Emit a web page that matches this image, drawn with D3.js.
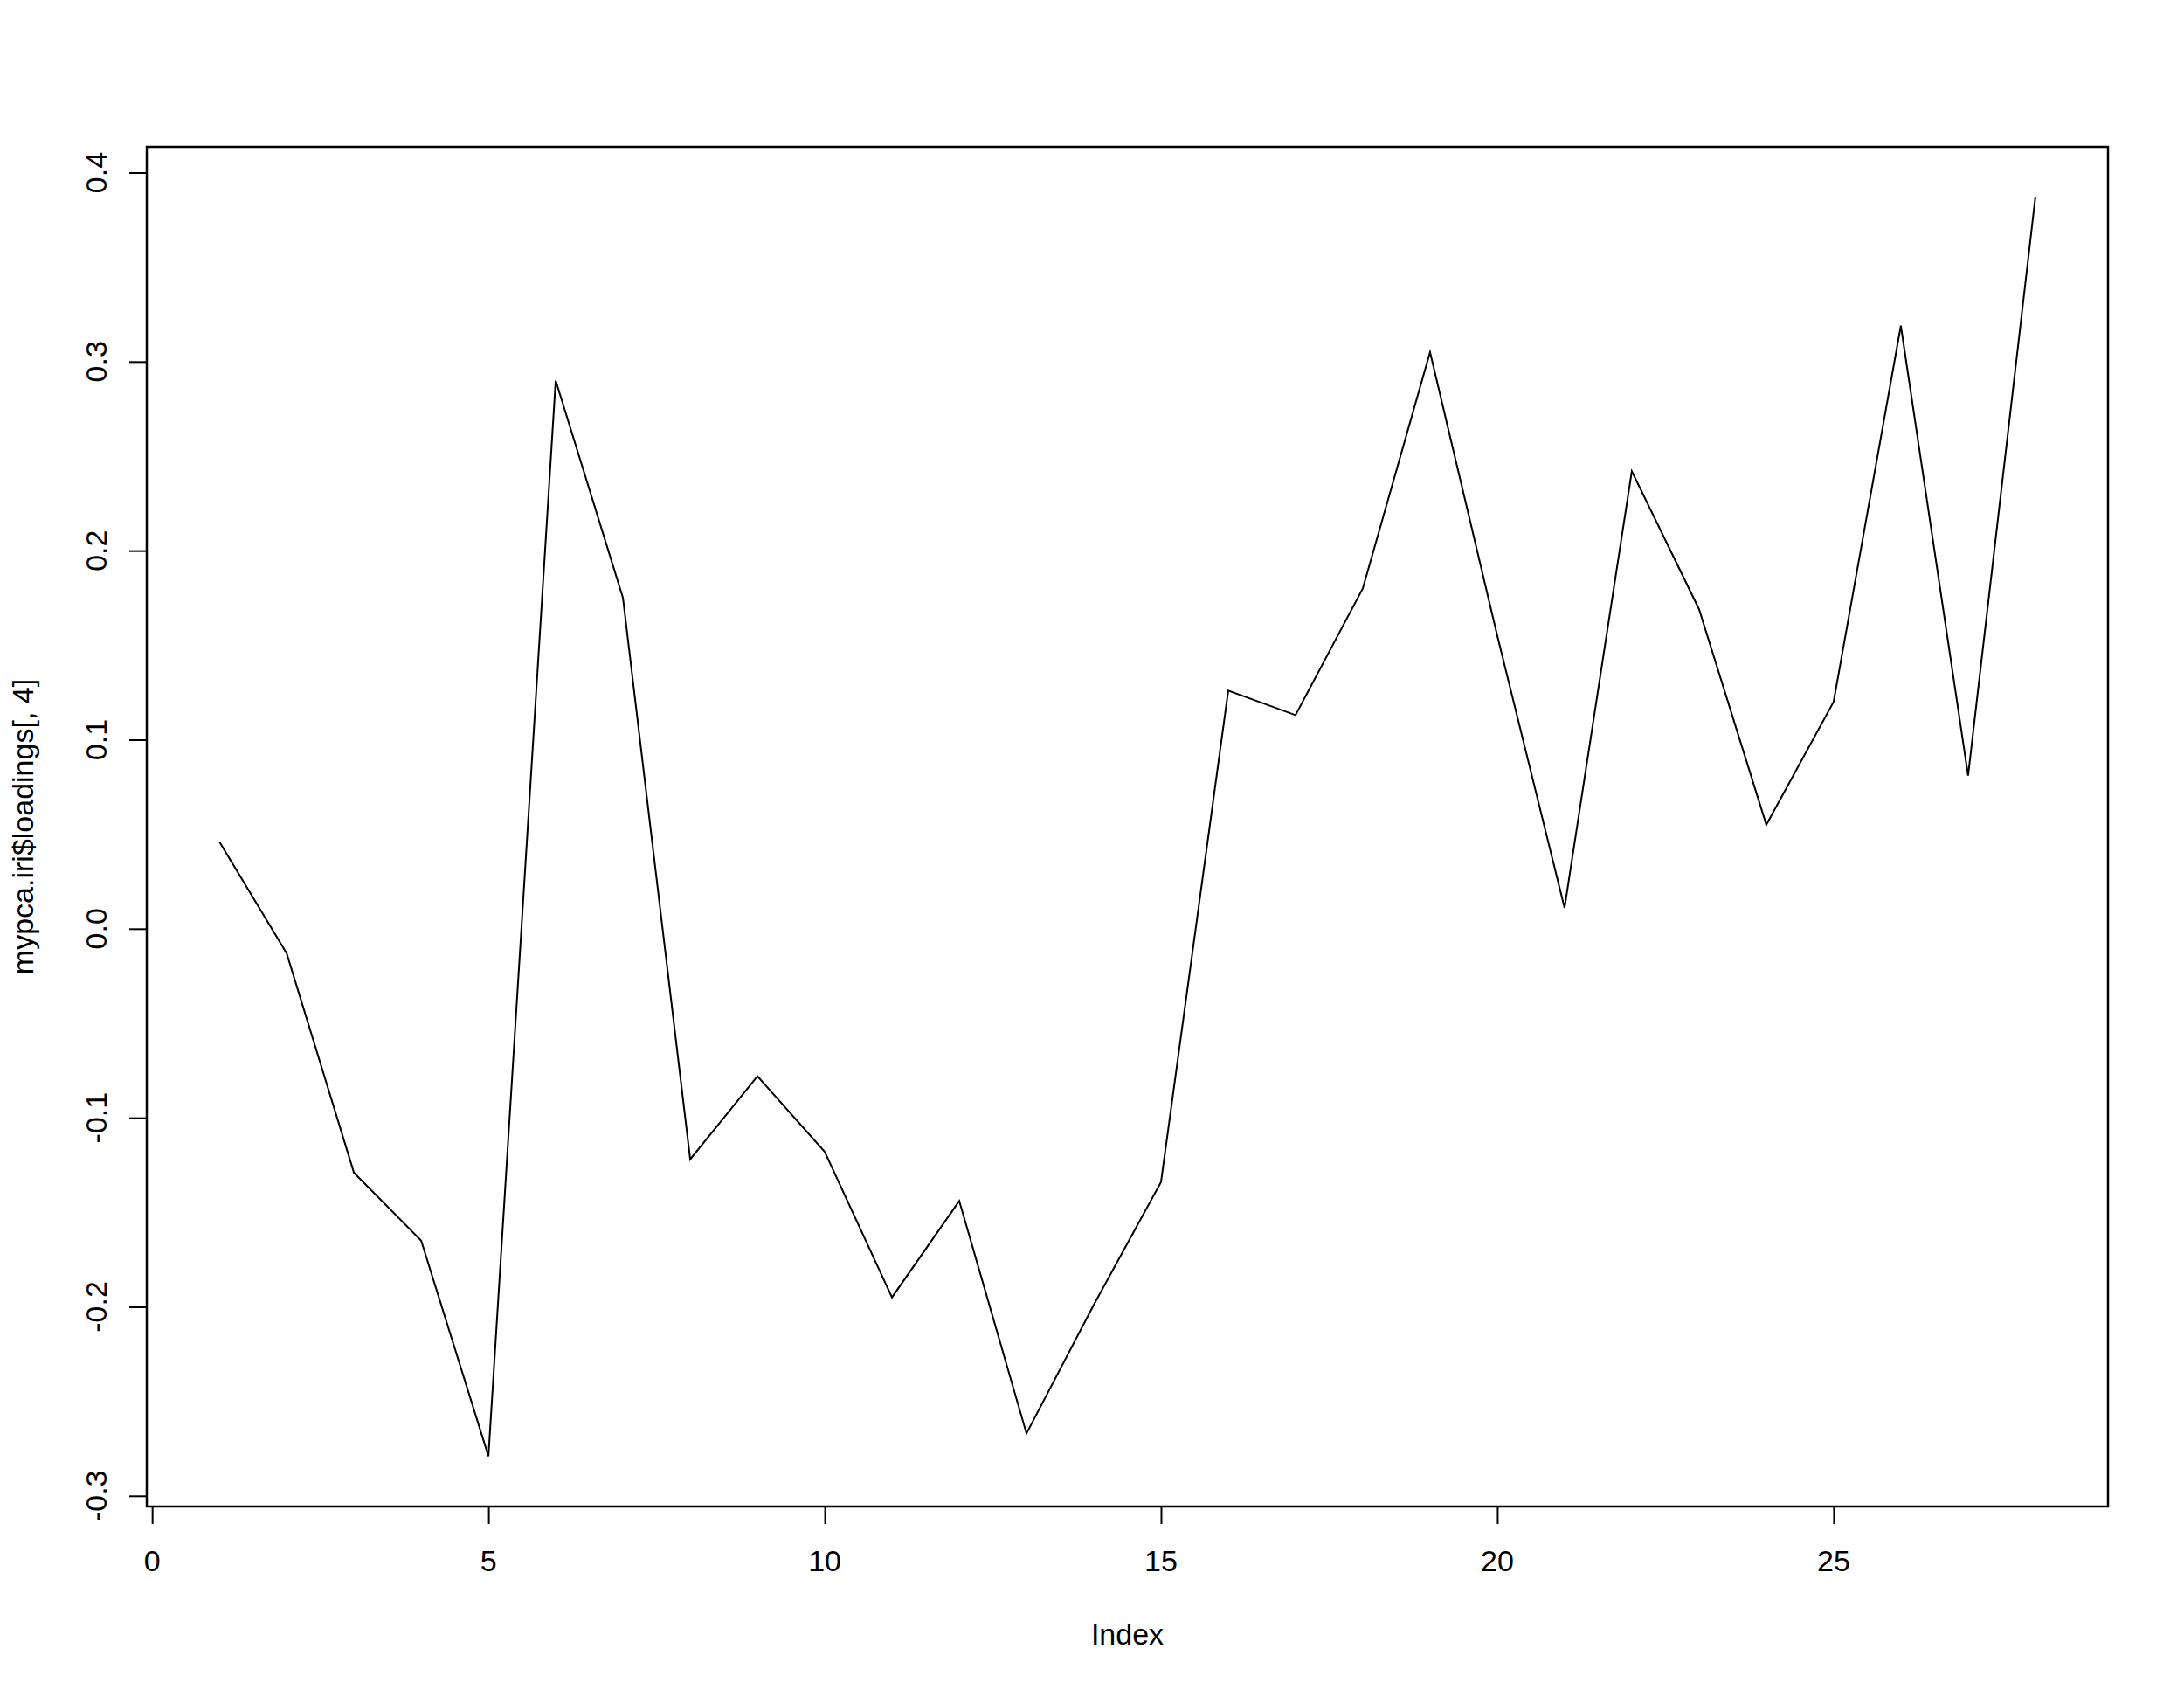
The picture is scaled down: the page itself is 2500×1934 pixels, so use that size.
<!DOCTYPE html>
<html>
<head>
<meta charset="utf-8">
<script src="https://cdn.jsdelivr.net/npm/d3@7"></script>
<style>
  body { margin: 0; background: #fff; }
  svg text { font-family: "Liberation Sans", Arial, sans-serif; fill: #000; }
</style>
</head>
<body>
<svg id="vis" width="2500" height="1934"></svg>
<script>
// loadings of component 4 (index 1..28)
const loadings = [
    0.046, -0.013, -0.129, -0.165, -0.279, 0.290, 0.175, -0.122, -0.078, -0.118,
    -0.195, -0.144, -0.267, -0.199, -0.134, 0.126, 0.113, 0.180, 0.305, 0.155,
    0.011, 0.242, 0.169, 0.055, 0.120, 0.319, 0.081, 0.387
];
const xTicks = [0, 5, 10, 15, 20, 25];
const yTicks = [-0.3, -0.2, -0.1, 0.0, 0.1, 0.2, 0.3, 0.4];
const xLabel = "Index";
const yLabel = "mypca.iri$loadings[, 4]";

// plot box in pixels
const BOX = {left: 168, top: 168, right: 2413, bottom: 1724};
const FONT = 34;

const svg = d3.select("#vis");

const data = loadings.map((v, i) => ({i: i + 1, v: v}));

// R style 4% padding around the data range
const n = data.length;
const xPad = (n - 1) * 0.04;
const yMin = d3.min(loadings), yMax = d3.max(loadings);
const yPad = (yMax - yMin) * 0.04;

const x = d3.scaleLinear()
    .domain([1 - xPad, n + xPad])
    .range([BOX.left, BOX.right]);
const y = d3.scaleLinear()
    .domain([yMin - yPad, yMax + yPad])
    .range([BOX.bottom, BOX.top]);

// axes (ticks only, labels drawn separately like R does)
const xAxis = d3.axisBottom(x).tickValues(xTicks).tickSize(20).tickFormat("");
const yAxis = d3.axisLeft(y).tickValues(yTicks).tickSize(20).tickFormat("");

const gx = svg.append("g")
    .attr("transform", `translate(0, ${BOX.bottom})`)
    .call(xAxis);
const gy = svg.append("g")
    .attr("transform", `translate(${BOX.left}, 0)`)
    .call(yAxis);
[gx, gy].forEach(g => {
    g.select(".domain").remove();
    g.selectAll(".tick line").attr("stroke", "#000").attr("stroke-width", 2);
});

// tick labels
svg.append("g").selectAll("text")
    .data(xTicks)
    .enter()
    .append("text")
    .attr("x", d => x(d))
    .attr("y", BOX.bottom + 74)
    .attr("text-anchor", "middle")
    .style("font-size", FONT + "px")
    .text(d => d);

svg.append("g").selectAll("text")
    .data(yTicks)
    .enter()
    .append("text")
    .attr("transform", d => `translate(122, ${y(d)}) rotate(-90)`)
    .attr("text-anchor", "middle")
    .style("font-size", FONT + "px")
    .text(d => d.toFixed(1));

// axis titles
svg.append("text")
    .attr("x", (BOX.left + BOX.right) / 2)
    .attr("y", 1882)
    .attr("text-anchor", "middle")
    .style("font-size", FONT + "px")
    .text(xLabel);
svg.append("text")
    .attr("transform", `translate(38, ${(BOX.top + BOX.bottom) / 2}) rotate(-90)`)
    .attr("text-anchor", "middle")
    .style("font-size", FONT + "px")
    .text(yLabel);

// the line
const line = d3.line()
    .x(d => x(d.i))
    .y(d => y(d.v));
svg.append("path")
    .datum(data)
    .attr("d", line)
    .attr("fill", "none")
    .attr("stroke", "#000")
    .attr("stroke-width", 2);

// frame
svg.append("rect")
    .attr("x", BOX.left)
    .attr("y", BOX.top)
    .attr("width", BOX.right - BOX.left)
    .attr("height", BOX.bottom - BOX.top)
    .attr("fill", "none")
    .attr("stroke", "#000")
    .attr("stroke-width", 2.5);
</script>
</body>
</html>
